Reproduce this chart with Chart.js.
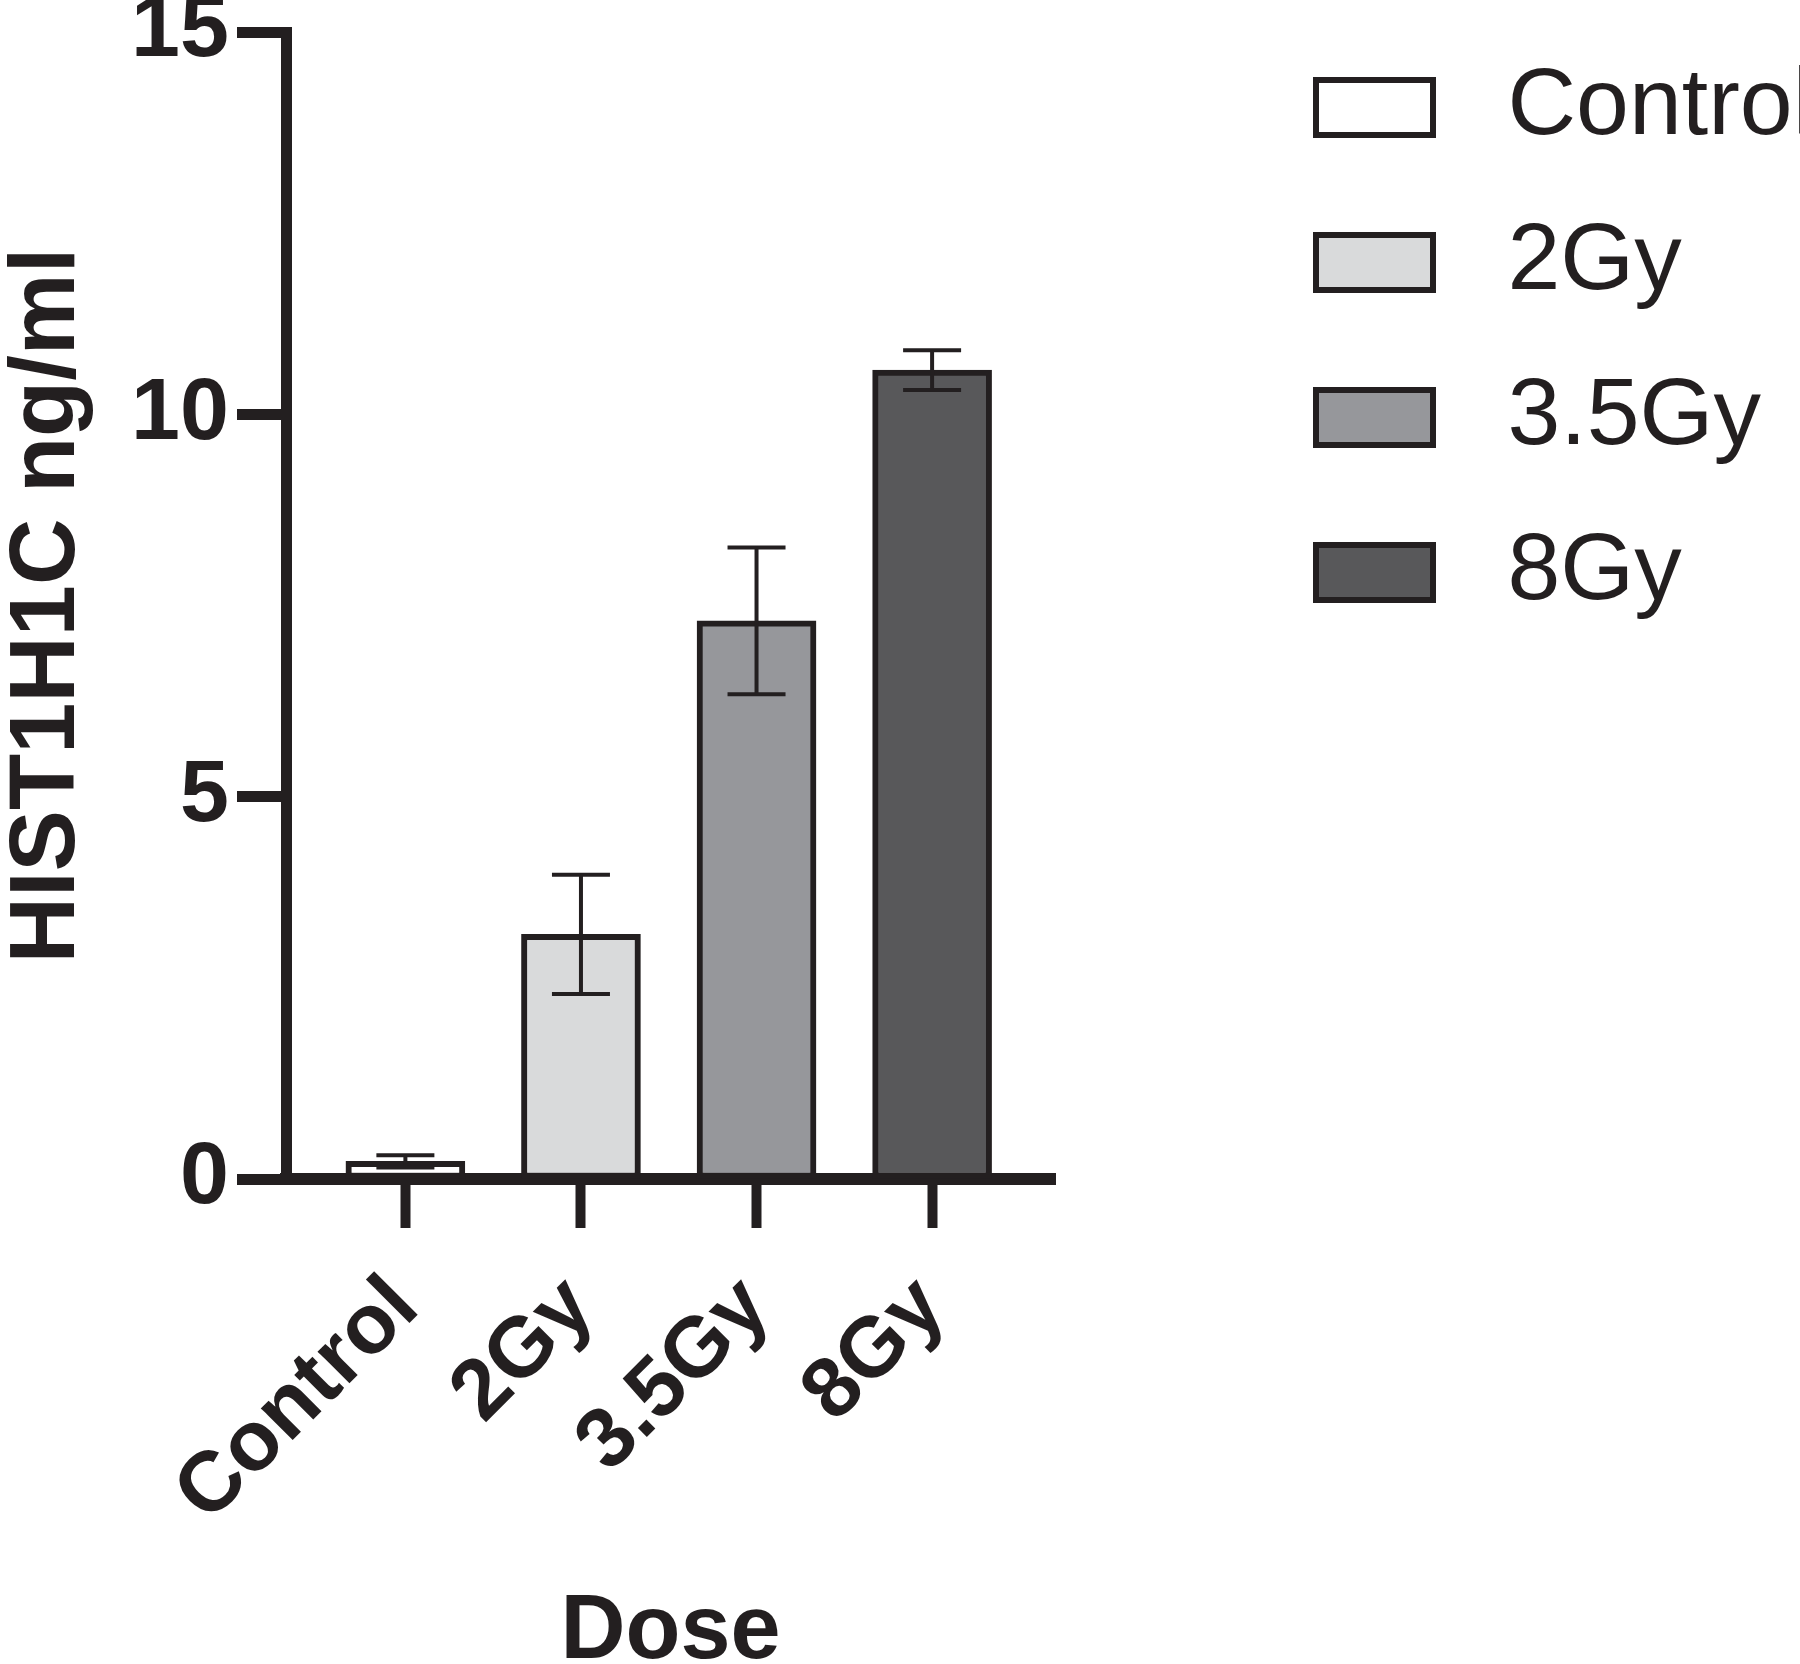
<!DOCTYPE html>
<html>
<head>
<meta charset="utf-8">
<title>HIST1H1C dose response</title>
<script src="https://cdn.jsdelivr.net/npm/chart.js@4.4.1/dist/chart.umd.min.js"></script>
<style>
  html, body { margin: 0; padding: 0; background: #ffffff; }
  #wrap { width: 1800px; height: 1664px; }
</style>
</head>
<body>
<div id="wrap"><canvas id="chart" width="1800" height="1664"></canvas></div>
<script>
// data
const doses = ['Control', '2Gy', '3.5Gy', '8Gy'];
const means = [0.23, 3.2, 7.3, 10.58];
const errors = [0.08, 0.78, 0.96, 0.26];
const yTicks = [0, 5, 10, 15];

const fills = ['#ffffff', '#d9dadb', '#96979b', '#58585a'];
const ink = '#231f20';
const family = '"Liberation Sans", Arial, Helvetica, sans-serif';

// legend swatch: outlined rectangle, used as the legend point style
function swatch(fill) {
    const c = document.createElement('canvas');
    c.width = 123;
    c.height = 61;
    const g = c.getContext('2d');
    g.fillStyle = fill;
    g.fillRect(0, 0, c.width, c.height);
    g.strokeStyle = ink;
    g.lineWidth = 6;
    g.strokeRect(3, 3, c.width - 6, c.height - 6);
    return c;
}

// error bars (mean +/- error), drawn on top of the bars
const errorBars = {
    id: 'errorBars',
    afterDatasetsDraw(chart) {
        const { ctx, scales: { x, y } } = chart;
        const cap = 29;
        ctx.save();
        ctx.strokeStyle = ink;
        ctx.lineWidth = 4;
        means.forEach((m, i) => {
            const px = x.getPixelForValue(i);
            const top = y.getPixelForValue(m + errors[i]);
            const bot = y.getPixelForValue(m - errors[i]);
            ctx.beginPath();
            ctx.moveTo(px, top);
            ctx.lineTo(px, bot);
            ctx.moveTo(px - cap, top);
            ctx.lineTo(px + cap, top);
            ctx.moveTo(px - cap, bot);
            ctx.lineTo(px + cap, bot);
            ctx.stroke();
        });
        ctx.restore();
    }
};

const datasets = doses.map((d, i) => ({
    label: d,
    data: [{ x: i, y: means[i] }],
    backgroundColor: fills[i],
    borderColor: ink,
    borderWidth: 6,
    borderSkipped: false,
    barThickness: 119,
    grouped: false,
    pointStyle: swatch(fills[i])
}));

new Chart(document.getElementById('chart').getContext('2d'), {
    type: 'bar',
    data: { datasets },
    options: {
        responsive: false,
        animation: false,
        devicePixelRatio: 1,
        layout: { padding: 0 },
        plugins: {
            tooltip: { enabled: false },
            legend: {
                position: 'right',
                align: 'start',
                maxWidth: 571,
                labels: {
                    color: ink,
                    font: { family, size: 95 },
                    usePointStyle: true,
                    pointStyleWidth: 171,
                    boxHeight: 55,
                    padding: 60
                }
            }
        },
        scales: {
            x: {
                type: 'linear',
                min: -0.68,
                max: 3.7,
                offset: false,
                z: 1,
                afterBuildTicks: s => { s.ticks = doses.map((_, i) => ({ value: i })); },
                afterFit: s => { s.height = 485; },
                ticks: {
                    autoSkip: false,
                    minRotation: 45,
                    maxRotation: 45,
                    padding: 30,
                    color: ink,
                    font: { family, size: 85, weight: 'bold' },
                    callback: v => doses[v]
                },
                grid: { offset: false, drawOnChartArea: false, tickLength: 49, tickWidth: 10, tickColor: ink },
                border: { color: ink, width: 12 },
                title: {
                    display: true,
                    text: 'Dose',
                    color: ink,
                    font: { family, size: 90, weight: 'bold', lineHeight: 0.5 },
                    padding: { top: 0, bottom: 8 }
                }
            },
            y: {
                min: 0,
                max: 15,
                z: 1,
                afterBuildTicks: s => { s.ticks = yTicks.map(v => ({ value: v })); },
                afterFit: s => { s.width = 286; },
                ticks: {
                    padding: 8,
                    color: ink,
                    font: { family, size: 88, weight: 'bold', lineHeight: 0.55 }
                },
                grid: { drawOnChartArea: false, tickLength: 49, tickWidth: 11, tickColor: ink },
                border: { color: ink, width: 11 },
                title: {
                    display: true,
                    text: 'HIST1H1C ng/ml',
                    color: ink,
                    font: { family, size: 92, weight: 'bold', lineHeight: 1 },
                    padding: { top: 3, bottom: 0 }
                }
            },
            // empty spacer between plot and legend
            gap: {
                type: 'linear',
                position: 'right',
                display: true,
                afterFit: s => { s.width = 174; },
                ticks: { display: false },
                grid: { display: false },
                border: { display: false }
            }
        }
    },
    plugins: [errorBars]
});
</script>
</body>
</html>
